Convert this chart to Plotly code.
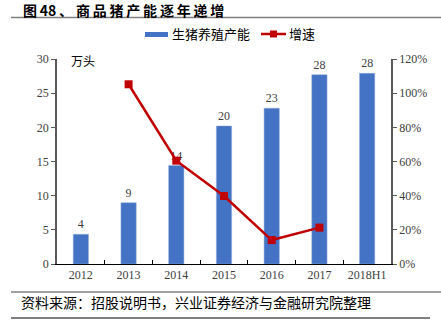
import plotly.graph_objects as go

categories = ["2012", "2013", "2014", "2015", "2016", "2017", "2018H1"]
capacity = [4.35, 8.97, 14.4, 20.2, 22.8, 27.7, 27.9]
growth = [None, 1.052, 0.605, 0.398, 0.14, 0.213, None]
y_left_ticks = [0, 5, 10, 15, 20, 25, 30]
y_right_ticks = [0, 0.2, 0.4, 0.6, 0.8, 1.0, 1.2]
title_text = "图48、商品猪产能逐年递增"

SERIF = "Liberation Serif, Times New Roman, serif"
CJK = "Noto Sans CJK SC, sans-serif"
AXC = "#595959"
BLUE = "#4472C4"
RED = "#C00000"

L, R, T, B = 57, 50, 59, 61
PW, PH = 441 - L - R, 325 - T - B


def px(x):
    return (x - L) / PW


def py(y):
    return (325 - B - y) / PH


fig = go.Figure()
fig.add_trace(go.Bar(
    x=categories, y=capacity, name="生猪养殖产能",
    marker=dict(color=BLUE, line=dict(color="#8FAADC", width=0.5)),
    width=0.32,
    text=[f"{v:.0f}" for v in capacity], textposition="outside",
    textfont=dict(family=SERIF, size=12, color="#404040"),
    cliponaxis=False,
))
fig.add_trace(go.Scatter(
    x=categories, y=growth, name="增速", yaxis="y2", mode="lines+markers",
    line=dict(color=RED, width=2.5),
    marker=dict(symbol="square", size=8, color=RED),
))

fig.update_layout(
    width=441, height=325,
    margin=dict(l=L, r=R, t=T, b=B),
    paper_bgcolor="white", plot_bgcolor="white",
    showlegend=False,
    xaxis=dict(
        tickfont=dict(family=SERIF, size=12, color="#404040"),
        showline=True, linecolor="#000", linewidth=1,
        ticks="inside", tickson="boundaries", ticklen=4, tickcolor="#000",
        showgrid=False,
    ),
    yaxis=dict(
        range=[0, 30], tickvals=y_left_ticks,
        tickfont=dict(family=SERIF, size=12, color="#404040"),
        showline=True, linecolor=AXC, linewidth=1.5,
        ticks="outside", ticklen=4, tickcolor=AXC,
        showgrid=False, zeroline=False,
    ),
    yaxis2=dict(
        range=[0, 1.2], tickvals=y_right_ticks, tickformat=".0%",
        overlaying="y", side="right",
        tickfont=dict(family=SERIF, size=12, color="#404040"),
        showline=True, linecolor=AXC, linewidth=1.5,
        ticks="outside", ticklen=4, tickcolor=AXC,
        showgrid=False, zeroline=False,
    ),
)

# title (thin spaces between glyphs to mimic the wide spacing)
spaced_title = "\u2009".join(title_text.replace("48", "\x00")).replace("\x00", "48")
fig.add_annotation(text="<b>" + spaced_title + "</b>", xref="paper", yref="paper",
                   x=px(21), xanchor="left", y=py(9.5), yanchor="middle",
                   showarrow=False, font=dict(family=CJK, size=14, color="#000"))
# unit
fig.add_annotation(text="万头", xref="paper", yref="paper",
                   x=px(69), xanchor="left", y=py(60), yanchor="middle",
                   showarrow=False, font=dict(family=CJK, size=12, color="#000"))
# source
fig.add_annotation(text="资料来源：招股说明书，兴业证券经济与金融研究院整理", xref="paper", yref="paper",
                   x=px(19), xanchor="left", y=py(302), yanchor="middle",
                   showarrow=False, font=dict(family=CJK, size=14, color="#000"))

# custom legend
fig.add_shape(type="rect", xref="paper", yref="paper", x0=px(145), x1=px(168),
              y0=py(37), y1=py(32), fillcolor=BLUE, line=dict(width=0))
fig.add_annotation(text="生猪养殖产能", xref="paper", yref="paper",
                   x=px(170), xanchor="left", y=py(34), yanchor="middle",
                   showarrow=False, font=dict(family=CJK, size=13, color="#000"))
fig.add_shape(type="line", xref="paper", yref="paper", x0=px(261), x1=px(286),
              y0=py(34), y1=py(34), line=dict(color=RED, width=2.5))
fig.add_shape(type="rect", xref="paper", yref="paper", x0=px(270), x1=px(277),
              y0=py(37.5), y1=py(30.5), fillcolor=RED, line=dict(width=0))
fig.add_annotation(text="增速", xref="paper", yref="paper",
                   x=px(287), xanchor="left", y=py(34), yanchor="middle",
                   showarrow=False, font=dict(family=CJK, size=13, color="#000"))

# rules
fig.add_shape(type="line", xref="paper", yref="paper", x0=px(11), x1=px(441),
              y0=py(17.5), y1=py(17.5), line=dict(color="#808080", width=1.5))
fig.add_shape(type="line", xref="paper", yref="paper", x0=px(11), x1=px(441),
              y0=py(292), y1=py(292), line=dict(color="#808080", width=1.5))
fig.add_shape(type="line", xref="paper", yref="paper", x0=px(11), x1=px(430),
              y0=py(318), y1=py(318), line=dict(color="#000", width=1))

fig.write_html("out.html")
